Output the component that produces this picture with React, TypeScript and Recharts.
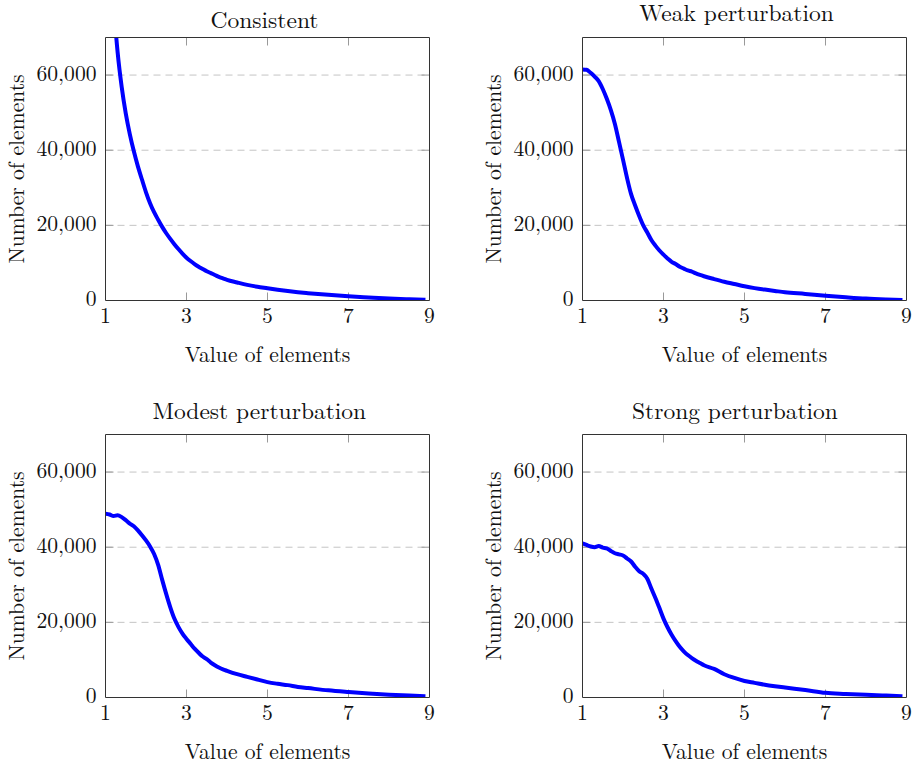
import React from 'react';
import {
  LineChart,
  Line,
  XAxis,
  YAxis,
  CartesianGrid,
  ReferenceLine,
} from 'recharts';

const FONT = '"Latin Modern Roman", "Liberation Serif", serif';

const X_VALUES = [
  1.0, 1.1, 1.2, 1.3, 1.4, 1.5, 1.6, 1.7, 1.8, 1.9,
  2.0, 2.1, 2.2, 2.3, 2.4, 2.5, 2.6, 2.7, 2.8, 2.9,
  3.0, 3.1, 3.2, 3.3, 3.4, 3.5, 3.6, 3.7, 3.8, 3.9,
  4.0, 4.25, 4.5, 4.75, 5.0, 5.25, 5.5, 5.75, 6.0,
  6.5, 7.0, 7.5, 8.0, 8.5, 8.9,
];

const CONSISTENT = [
  115000, 95000, 79000, 66000, 56800, 49800, 44300, 39700, 35700, 32200,
  28800, 25900, 23500, 21500, 19600, 17900, 16400, 15000, 13700, 12500,
  11400, 10500, 9700, 9000, 8400, 7800, 7300, 6800, 6300, 5900,
  5500, 4800, 4150, 3650, 3250, 2850, 2500, 2200, 1950,
  1500, 1100, 800, 520, 320, 180,
];

const WEAK = [
  61500, 61400, 60600, 59600, 58400, 56300, 53700, 50700, 47000, 42300,
  37500, 32600, 28300, 25300, 22500, 20000, 18100, 16100, 14600, 13300,
  12200, 11200, 10300, 9700, 9000, 8500, 8000, 7700, 7200, 6800,
  6450, 5700, 5000, 4400, 3800, 3300, 2900, 2550, 2200,
  1750, 1250, 850, 500, 280, 150,
];

const MODEST = [
  48900, 48700, 48300, 48500, 48000, 47200, 46300, 45600, 44500, 43200,
  41800, 40200, 38200, 35300, 31300, 27500, 24000, 21000, 18800, 17000,
  15600, 14300, 13000, 11900, 10900, 10200, 9300, 8600, 8000, 7500,
  7100, 6200, 5500, 4800, 4100, 3650, 3300, 2800, 2500,
  1900, 1450, 1050, 750, 500, 350,
];

const STRONG = [
  41000, 40600, 40200, 40000, 40300, 39900, 39700, 39000, 38400, 38100,
  37800, 37000, 36200, 34800, 33600, 32900, 31600, 29000, 26500, 23800,
  21000, 18700, 16700, 15000, 13500, 12300, 11300, 10500, 9800, 9200,
  8600, 7600, 6200, 5200, 4400, 3900, 3400, 3000, 2650,
  2000, 1250, 950, 700, 500, 350,
];

const X_TICKS = [1, 3, 5, 7, 9];
const INNER_X_TICKS = [3, 5, 7];
const Y_TICKS = [0, 20000, 40000, 60000];
const INNER_Y_TICKS = [20000, 40000, 60000];

const TITLES = [
  'Consistent',
  'Weak perturbation',
  'Modest perturbation',
  'Strong perturbation',
];
const X_LABEL = 'Value of elements';
const Y_LABEL = 'Number of elements';

const data = X_VALUES.map((x, i) => ({
  x,
  consistent: CONSISTENT[i],
  weak: WEAK[i],
  modest: MODEST[i],
  strong: STRONG[i],
}));

// layout of the four panels on the page
const PANELS = [
  { key: 'consistent', title: TITLES[0], left: 0, top: 0, width: 458, height: 382, plotLeft: 105.5, plotRight: 429.5, plotTop: 37.5, plotBottom: 300.5, titleX: 264.5, titleY: 28 },
  { key: 'weak', title: TITLES[1], left: 458, top: 0, width: 459, height: 382, plotLeft: 582.5, plotRight: 906.5, plotTop: 37.5, plotBottom: 300.5, titleX: 736.5, titleY: 21 },
  { key: 'modest', title: TITLES[2], left: 0, top: 382, width: 458, height: 382, plotLeft: 105.5, plotRight: 429.5, plotTop: 434.5, plotBottom: 697.5, titleX: 259.3, titleY: 418.7 },
  { key: 'strong', title: TITLES[3], left: 458, top: 382, width: 459, height: 382, plotLeft: 582.5, plotRight: 906.5, plotTop: 434.5, plotBottom: 697.5, titleX: 735, titleY: 419 },
];

const FRAME = '#333';
const TICK = '#999';
const GRID = '#c4c4c4';
const TEXT = '#111';
const TICK_LEN = 8;

const fmt = (v: number) => v.toLocaleString('en-US');

const NoLabel = () => <g />;

// inner tick marks: a reference line that only draws its two ends
const vTick = (props: any) => {
  const x = props.x1;
  const top = Math.min(props.y1, props.y2);
  const bottom = Math.max(props.y1, props.y2);
  return (
    <g>
      <line x1={x} x2={x} y1={top} y2={top + TICK_LEN} stroke={TICK} />
      <line x1={x} x2={x} y1={bottom - TICK_LEN} y2={bottom} stroke={TICK} />
    </g>
  );
};

const hTick = (props: any) => {
  const y = props.y1;
  const left = Math.min(props.x1, props.x2);
  const right = Math.max(props.x1, props.x2);
  return (
    <g>
      <line x1={left} x2={left + TICK_LEN} y1={y} y2={y} stroke={TICK} />
      <line x1={right - TICK_LEN} x2={right} y1={y} y2={y} stroke={TICK} />
    </g>
  );
};

const xLabel = (props: any) => {
  const vb = props.viewBox;
  return (
    <text
      x={vb.x + vb.width / 2}
      y={vb.y + 61}
      textAnchor="middle"
      fontFamily={FONT}
      fontSize={21.6}
      fill={TEXT}
    >
      {X_LABEL}
    </text>
  );
};

const yLabel = (props: any) => {
  const vb = props.viewBox;
  const x = vb.x + vb.width - 81.5;
  const y = vb.y + vb.height / 2;
  return (
    <text
      x={x}
      y={y}
      transform={`rotate(-90 ${x} ${y})`}
      textAnchor="middle"
      fontFamily={FONT}
      fontSize={21.6}
      fill={TEXT}
    >
      {Y_LABEL}
    </text>
  );
};

function Panel({ p }: { p: (typeof PANELS)[number] }) {
  const yWidth = p.plotLeft - p.left;
  const xHeight = p.top + p.height - p.plotBottom;
  return (
    <div style={{ position: 'absolute', left: p.left, top: p.top }}>
      <LineChart
        width={p.width}
        height={p.height}
        data={data}
        margin={{
          top: p.plotTop - p.top,
          right: p.left + p.width - p.plotRight,
          bottom: 0,
          left: 0,
        }}
      >
        <CartesianGrid
          xAxisId="b"
          yAxisId="l"
          vertical={false}
          horizontalValues={INNER_Y_TICKS}
          stroke={GRID}
          strokeDasharray="7 5"
        />
        <XAxis
          xAxisId="b"
          dataKey="x"
          type="number"
          domain={[1, 9]}
          ticks={X_TICKS}
          interval={0}
          height={xHeight}
          tickLine={false}
          tickSize={6}
          tickMargin={1}
          axisLine={{ stroke: FRAME }}
          tick={{ fontSize: 21.6, fontFamily: FONT, fill: TEXT }}
          label={xLabel}
        />
        {/* top and right axes only close the frame */}
        <XAxis
          xAxisId="t"
          orientation="top"
          mirror
          type="number"
          domain={[1, 9]}
          allowDataOverflow
          ticks={INNER_X_TICKS}
          height={1}
          tick={NoLabel}
          tickLine={false}
          axisLine={{ stroke: FRAME }}
        />
        <YAxis
          yAxisId="l"
          type="number"
          domain={[0, 70000]}
          allowDataOverflow
          ticks={Y_TICKS}
          interval={0}
          width={yWidth}
          tickLine={false}
          tickSize={6}
          tickMargin={3}
          tickFormatter={fmt}
          axisLine={{ stroke: FRAME }}
          tick={{ fontSize: 21.6, fontFamily: FONT, fill: TEXT, dy: -2 }}
          label={yLabel}
        />
        <YAxis
          yAxisId="r"
          orientation="right"
          mirror
          type="number"
          domain={[0, 70000]}
          allowDataOverflow
          ticks={INNER_Y_TICKS}
          width={1}
          tick={NoLabel}
          tickLine={false}
          axisLine={{ stroke: FRAME }}
        />
        {INNER_X_TICKS.map((v) => (
          <ReferenceLine key={`x${v}`} xAxisId="b" yAxisId="l" x={v} shape={vTick} />
        ))}
        {INNER_Y_TICKS.map((v) => (
          <ReferenceLine key={`y${v}`} xAxisId="b" yAxisId="l" y={v} shape={hTick} />
        ))}
        <Line
          xAxisId="b"
          yAxisId="l"
          type="monotone"
          dataKey={p.key}
          stroke="#0000ff"
          strokeWidth={4}
          dot={false}
          activeDot={false}
          isAnimationActive={false}
        />
      </LineChart>
    </div>
  );
}

export default function App() {
  return (
    <div
      style={{
        position: 'absolute',
        left: 0,
        top: 0,
        width: 917,
        height: 764,
        background: '#fff',
      }}
    >
      {PANELS.map((p) => (
        <Panel key={p.key} p={p} />
      ))}
      <svg
        width={917}
        height={764}
        style={{ position: 'absolute', left: 0, top: 0, pointerEvents: 'none' }}
      >
        {PANELS.map((p) => (
          <text
            key={p.key}
            x={p.titleX}
            y={p.titleY}
            textAnchor="middle"
            fontFamily={FONT}
            fontSize={23.5}
            fill={TEXT}
          >
            {p.title}
          </text>
        ))}
      </svg>
    </div>
  );
}
